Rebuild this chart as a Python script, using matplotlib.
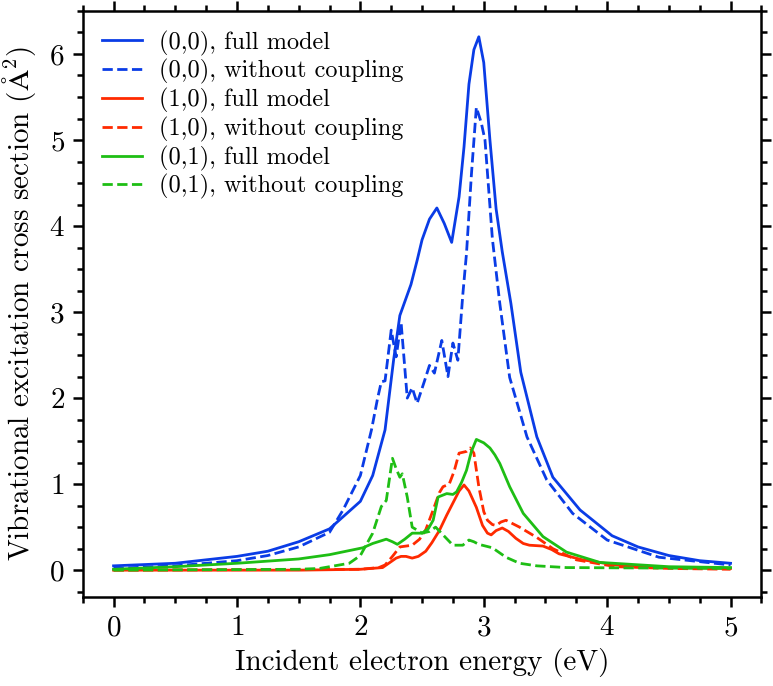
import matplotlib
matplotlib.use("Agg")
import matplotlib.pyplot as plt
from matplotlib.ticker import MultipleLocator

plt.rcParams['font.family'] = 'cmr10'
plt.rcParams['mathtext.fontset'] = 'cm'
plt.rcParams['axes.formatter.use_mathtext'] = True

# (0,0) full model
x00_full = [0.0, 0.5, 1.0, 1.25, 1.5, 1.75, 2.0, 2.1, 2.2, 2.27, 2.32, 2.36, 2.41, 2.46, 2.50,
            2.56, 2.62, 2.68, 2.74, 2.80, 2.84, 2.88, 2.92, 2.96, 3.0, 3.05, 3.10, 3.15, 3.22,
            3.30, 3.43, 3.56, 3.78, 4.04, 4.25, 4.5, 4.75, 5.0]
y00_full = [0.05, 0.08, 0.16, 0.22, 0.33, 0.48, 0.80, 1.10, 1.63, 2.45, 2.96, 3.12, 3.32, 3.6, 3.84,
            4.08, 4.21, 4.03, 3.81, 4.34, 4.92, 5.65, 6.05, 6.20, 5.90, 5.0, 4.2, 3.7, 3.1,
            2.3, 1.55, 1.08, 0.70, 0.40, 0.27, 0.17, 0.11, 0.08]

# (0,0) without coupling
x00_nc = [0.0, 0.5, 1.0, 1.25, 1.5, 1.75, 1.86, 2.0, 2.09, 2.14, 2.17, 2.2, 2.25, 2.29, 2.33,
          2.38, 2.42, 2.46, 2.52, 2.56, 2.60, 2.66, 2.71, 2.75, 2.79, 2.83, 2.86, 2.90, 2.94,
          2.98, 3.01, 3.07, 3.13, 3.21, 3.35, 3.51, 3.72, 4.0, 4.42, 5.0]
y00_nc = [0.02, 0.05, 0.11, 0.17, 0.27, 0.44, 0.70, 1.10, 1.63, 2.0, 2.19, 2.2, 2.79, 2.48, 2.88,
          2.0, 2.12, 1.94, 2.2, 2.38, 2.29, 2.67, 2.25, 2.64, 2.44, 3.2, 3.68, 4.6, 5.38,
          5.2, 5.0, 3.85, 3.1, 2.24, 1.55, 1.05, 0.66, 0.35, 0.15, 0.06]

# (1,0) full model
x10_full = [0.0, 1.5, 2.0, 2.18, 2.25, 2.29, 2.33, 2.37, 2.42, 2.47, 2.53, 2.58, 2.64, 2.70,
            2.75, 2.80, 2.84, 2.88, 2.94, 2.99, 3.03, 3.06, 3.10, 3.15, 3.20, 3.26, 3.32, 3.37,
            3.48, 3.55, 3.61, 3.8, 4.07, 4.5, 5.0]
y10_full = [0.0, 0.0, 0.01, 0.03, 0.10, 0.14, 0.16, 0.16, 0.14, 0.16, 0.22, 0.32, 0.46, 0.64,
            0.78, 0.92, 0.99, 0.92, 0.73, 0.52, 0.43, 0.41, 0.46, 0.49, 0.45, 0.37, 0.31, 0.29,
            0.28, 0.24, 0.19, 0.12, 0.06, 0.03, 0.02]

# (1,0) without coupling
x10_nc = [0.0, 2.0, 2.15, 2.2, 2.26, 2.32, 2.42, 2.48, 2.53, 2.59, 2.64, 2.67, 2.72, 2.76, 2.80,
          2.86, 2.89, 2.92, 2.96, 3.0, 3.03, 3.07, 3.10, 3.14, 3.18, 3.29, 3.43, 3.56, 3.75,
          4.07, 4.5, 5.0]
y10_nc = [0.0, 0.01, 0.03, 0.06, 0.16, 0.27, 0.29, 0.36, 0.47, 0.70, 0.90, 0.97, 1.0, 1.15, 1.36,
          1.38, 1.42, 1.36, 0.97, 0.68, 0.58, 0.53, 0.52, 0.56, 0.58, 0.50, 0.38, 0.25, 0.12,
          0.04, 0.02, 0.01]

# (0,1) full model
x01_full = [0.0, 0.5, 1.0, 1.5, 1.75, 2.02, 2.1, 2.21, 2.26, 2.30, 2.36, 2.42, 2.5, 2.55, 2.59,
            2.63, 2.70, 2.75, 2.78, 2.82, 2.86, 2.90, 2.94, 3.0, 3.05, 3.09, 3.13, 3.21, 3.32,
            3.48, 3.67, 3.94, 4.5, 5.0]
y01_full = [0.01, 0.04, 0.08, 0.13, 0.18, 0.26, 0.31, 0.36, 0.33, 0.30, 0.36, 0.43, 0.43, 0.48, 0.58,
            0.85, 0.89, 0.88, 0.91, 1.02, 1.16, 1.38, 1.52, 1.48, 1.42, 1.34, 1.24, 0.97, 0.66,
            0.39, 0.21, 0.09, 0.04, 0.03]

# (0,1) without coupling
x01_nc = [0.0, 1.5, 1.67, 1.91, 2.0, 2.10, 2.17, 2.21, 2.26, 2.29, 2.32, 2.34, 2.38, 2.42, 2.50,
          2.56, 2.61, 2.67, 2.75, 2.83, 2.88, 2.92, 2.96, 3.07, 3.18, 3.29, 3.43, 3.67, 5.0]
y01_nc = [0.0, 0.01, 0.02, 0.08, 0.17, 0.43, 0.74, 0.81, 1.30, 1.18, 1.08, 1.12, 0.85, 0.50, 0.43,
          0.45, 0.50, 0.41, 0.29, 0.29, 0.35, 0.33, 0.30, 0.26, 0.15, 0.08, 0.05, 0.03, 0.02]

series = [
    (x00_full, y00_full, '#0a3ce6', '-', '(0,0), full model'),
    (x00_nc, y00_nc, '#0a3ce6', '--', '(0,0), without coupling'),
    (x10_full, y10_full, '#ff2a00', '-', '(1,0), full model'),
    (x10_nc, y10_nc, '#ff2a00', '--', '(1,0), without coupling'),
    (x01_full, y01_full, '#1ebe14', '-', '(0,1), full model'),
    (x01_nc, y01_nc, '#1ebe14', '--', '(0,1), without coupling'),
]

fig = plt.figure(figsize=(7.73, 6.86), dpi=100)
ax = fig.add_axes([0.107, 0.130, 0.878, 0.854])

for xs, ys, c, ls, lab in series:
    ax.plot(xs, ys, color=c, linestyle=ls, linewidth=2.0, label=lab)

ax.set_xlim(-0.25, 5.25)
ax.set_ylim(-0.31, 6.5)
ax.xaxis.set_major_locator(MultipleLocator(1))
ax.xaxis.set_minor_locator(MultipleLocator(0.25))
ax.yaxis.set_major_locator(MultipleLocator(1))
ax.yaxis.set_minor_locator(MultipleLocator(0.25))
ax.tick_params(which='both', direction='out', top=True, right=True, width=1.8, labelsize=21)
ax.tick_params(which='major', length=7, pad=6)
ax.tick_params(which='minor', length=4)
for sp in ax.spines.values():
    sp.set_linewidth(1.8)

ax.set_xlabel('Incident electron energy (eV)', fontsize=21, labelpad=5)
ax.set_ylabel(r'Vibrational excitation cross section ($\mathrm{\AA}^2$)', fontsize=21, labelpad=8)

ax.legend(loc='upper left', frameon=False, fontsize=17.5, handlelength=1.65,
          handletextpad=0.7, labelspacing=0.15, borderaxespad=0.4)

plt.savefig('out.png', dpi=100)
plt.close()
